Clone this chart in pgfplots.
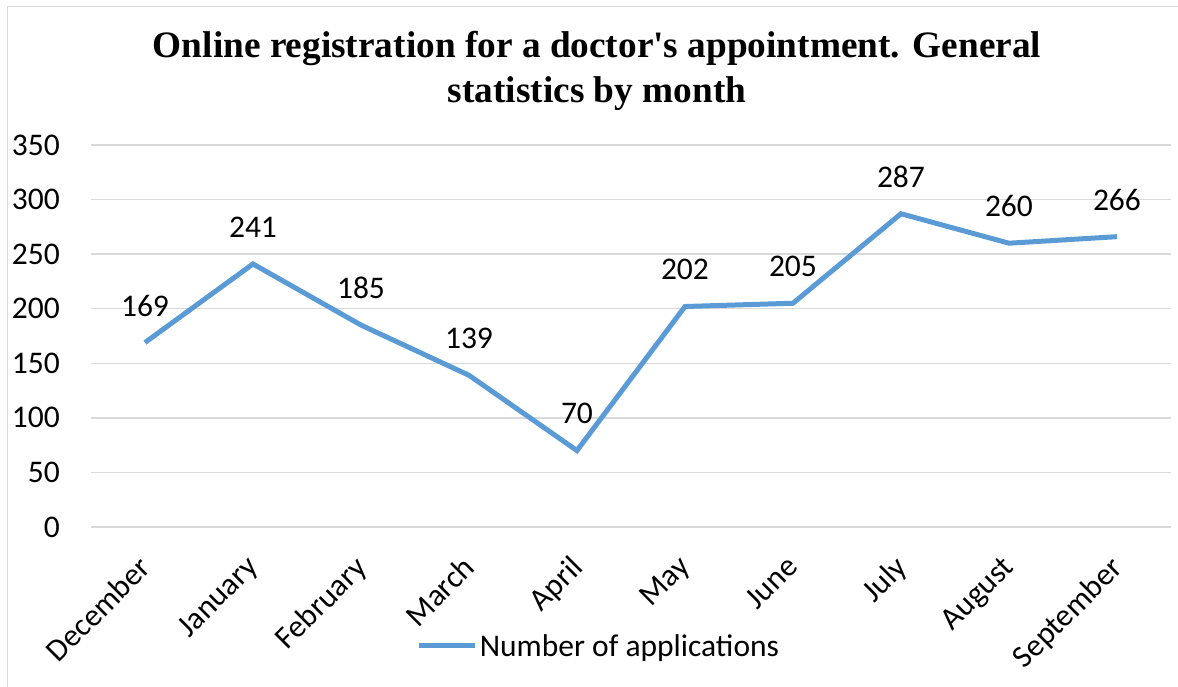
\documentclass[border=0pt]{standalone}
\usepackage{pgfplots}
\pgfplotsset{compat=1.18}
\usepackage{fontspec}
\setmainfont{Carlito}
\newfontfamily\titlefont{Liberation Serif}
\definecolor{lineblue}{RGB}{91,155,213}
\definecolor{gridgray}{RGB}{217,217,217}
\begin{document}
\begin{tikzpicture}[x=1bp,y=1bp]
\path[use as bounding box] (0,0) rectangle (1178,687);
\draw[gridgray, line width=1.5bp] (7.5,-20) -- (7.5,680.5) -- (1200,680.5);
\node[font=\titlefont\bfseries\fontsize{37.3bp}{45bp}\selectfont, align=center] at (597,616) {Online registration for a doctor's appointment. General\\statistics by month};
\begin{axis}[
  at={(91bp,160bp)}, anchor=south west,
  scale only axis, width=1080bp, height=382bp,
  xmin=-0.5, xmax=9.5, ymin=0, ymax=350,
  ytick={0,50,...,350},
  xtick={0,...,9},
  xticklabels={December,January,February,March,April,May,June,July,August,September},
  axis line style={draw=none},
  major tick length=0pt,
  ymajorgrids,
  grid style={gridgray, line width=1.5bp},
  clip=false,
  font=\fontsize{31.5bp}{37bp}\selectfont,
  /pgf/number format/assume math mode=true,
  yticklabel style={anchor=east, inner sep=0pt, xshift=-31bp},
  xticklabel style={xshift=-8bp, yshift=-27bp, rotate=45, anchor=north east, inner sep=0pt},
  legend style={at={(0.4703,-0.3115)}, anchor=center, draw=none, fill=none,
    font=\fontsize{31.5bp}{37bp}\selectfont},
  legend image code/.code={\draw[#1, line width=5bp] (0bp,0bp) -- (56bp,0bp);},
  every node near coord/.append style={anchor=center, yshift=37bp, font=\fontsize{31.5bp}{37bp}\selectfont, text=black},
]
\addplot[lineblue, line width=5bp, mark=none, nodes near coords] coordinates {
  (0,169) (1,241) (2,185) (3,139) (4,70) (5,202) (6,205) (7,287) (8,260) (9,266)
};
\addlegendentry{Number of applications}
\end{axis}
\end{tikzpicture}
\end{document}
